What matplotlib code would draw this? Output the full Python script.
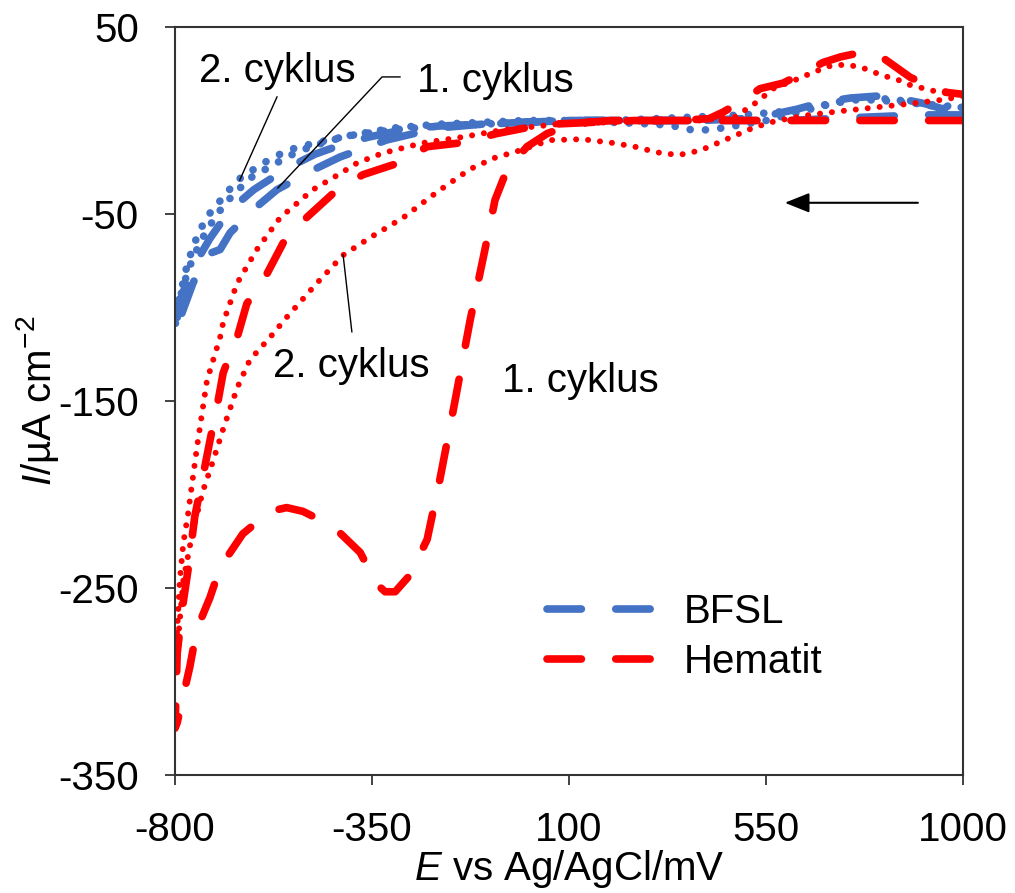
import matplotlib
matplotlib.use("Agg")
import matplotlib.pyplot as plt

plt.rcParams['font.family'] = ['Liberation Sans', 'DejaVu Sans']
plt.rcParams['axes.unicode_minus'] = False
plt.rcParams['mathtext.fontset'] = 'custom'
plt.rcParams['mathtext.rm'] = 'Liberation Sans'
plt.rcParams['mathtext.it'] = 'Liberation Sans:italic'

# ---- Data: potential E (mV vs Ag/AgCl) and current density I (uA cm^-2) ----
# Each cycle: cathodic sweep 1000 -> -800 mV, then anodic sweep back to 1000 mV.

# BFSL, 1st cycle
bfsl1_E = [1000, 900, 800, 700, 600, 500, 400, 300, 200, 100, 0, -100, -200, -316,
           -423, -485, -567, -613, -674, -697, -720, -736, -759, -781, -795, -800,
           -790, -770, -750, -720, -690, -660, -620, -580, -540, -480, -420, -360,
           -300, -200, -100, 0, 100, 200, 300, 400, 500, 560, 620, 673, 742, 800,
           826, 870, 913, 957, 1000]
bfsl1_I = [3, 3, 2, 1, 0, 0, 0, 0, 0, 0, -1, -2, -4, -10.4,
           -19.5, -26.5, -37, -46, -60, -69, -71, -76, -87, -101, -110, -113,
           -98, -84, -75, -63, -53, -45, -37, -31, -25, -18, -13, -9,
           -6, -3, -2, -1, 0, 0, 0, 0, 1, 3, 6, 9.4, 12, 13,
           13, 11, 9, 6, 5]

# BFSL, 2nd cycle
bfsl2_E = [1000, 950, 900, 850, 800, 750, 700, 650, 600, 550, 500, 450, 420, 380,
           340, 300, 200, 100, 0, -100, -200, -300, -400, -480, -544, -600, -658,
           -690, -720, -743, -759, -773, -789, -795, -800,
           -790, -775, -760, -740, -720, -700, -680, -655, -630, -600, -570, -540,
           -500, -450, -400, -350, -300, -200, -100, 0, 100, 200, 300, 400, 500,
           600, 650, 700, 750, 800, 850, 900, 950, 1000]
bfsl2_I = [7, 8, 9, 10, 11, 11, 9, 6, 3, 0, -2, -4, -5, -5,
           -3, -2, -1, 0, -1, -2, -3, -5, -8, -12, -16, -23, -32,
           -41, -49.5, -58.5, -67.6, -78, -94, -108, -110,
           -96, -84, -74, -64, -56, -49, -43, -37, -31, -27, -23, -19,
           -15, -11, -8, -6, -4, -2, -1, 0, 0, 0, 1, 2, 3,
           5, 7, 9, 12, 12, 11, 9, 7, 7]

# Hematit, 1st cycle
hem1_E = [1000, 900, 800, 700, 600, 500, 400, 300, 200, 140, 90, 50, 4, -42, -69,
          -92, -126, -160, -195, -224, -263, -297, -320, -339, -377, -439, -508,
          -545, -583, -645, -697, -720, -750, -766, -795, -800,
          -795, -784, -770, -755, -736, -720, -704, -690, -674, -658, -636, -613,
          -590, -553, -525, -498, -439, -405, -371, -293, -224, -149, -65, 0, 60,
          150, 250, 350, 420, 452, 500, 536, 589, 640, 680, 720, 760, 790, 820,
          850, 880, 920, 963, 1000]
hem1_I = [0, 0, 0, 0, 0, 0, 0, 0, 0, -1, -3.5, -7, -14, -26.5, -42.5,
          -69, -107, -149.5, -192, -224, -243, -252, -252, -248, -231, -217, -209,
          -207, -209, -221, -239, -255, -272, -292, -322, -325,
          -285, -262, -240, -212, -190, -171, -153, -135, -125, -116, -98, -90,
          -82, -65.5, -58, -51.6, -39, -34, -29, -23, -14, -12, -7, -4, -2,
          -1, 0, 0, 1, 4.5, 11, 17, 20, 26, 31, 34, 36, 36, 33,
          28, 23, 19, 15, 14]

# Hematit, 2nd cycle
hem2_E = [1000, 950, 880, 800, 720, 650, 600, 560, 520, 480, 450, 400, 350, 300,
          250, 200, 130, 57, -12, -70, -126, -200, -279, -350, -416, -476, -544,
          -583, -629, -658, -690, -713, -736, -759, -781, -795, -800,
          -795, -789, -781, -770, -750, -727, -697, -690, -658, -613, -560, -485,
          -420, -384, -325, -234, -142, -51, 102, 210, 300, 400, 480, 530, 566,
          620, 660, 703, 735, 766, 817, 849, 879, 947, 1000]
hem2_I = [13, 11, 9, 7, 5, 3, 1, -1, -4, -8, -11, -16, -18.5, -17,
          -14, -12, -10, -10.5, -16, -20, -26, -38, -52, -62, -72, -87, -105,
          -116, -128, -143, -165, -182, -198, -219, -246, -283, -292,
          -272, -246, -226, -210, -175, -139, -116, -108, -87, -69, -52, -37,
          -28, -22.7, -17.4, -12, -8.8, -5, -1.3, -1, 0, 0, 2, 10, 17,
          22, 26, 29.7, 29.7, 28.6, 24, 22, 19, 15, 14]

x_ticks = [-800, -350, 100, 550, 1000]
y_ticks = [-350, -250, -150, -50, 50]

BLUE = '#4472C4'
RED = '#FF0000'
FS = 29

fig = plt.figure(figsize=(10.15, 8.93), dpi=100)
ax = fig.add_axes([175 / 1015, 1 - 775 / 893, 788 / 1015, 748 / 893])

dash_kw = dict(lw=5.5, dashes=(4.5, 4.5), dash_capstyle='round')
dot_kw = dict(dashes=(0.01, 2.0), dash_capstyle='round')

ax.plot(bfsl2_E, bfsl2_I, color=BLUE, lw=5.5, **dot_kw)
ax.plot(bfsl1_E, bfsl1_I, color=BLUE, label='BFSL', **dash_kw)
ax.plot(hem2_E, hem2_I, color=RED, lw=4.3, **dot_kw)
ax.plot(hem1_E, hem1_I, color=RED, label='Hematit', **dash_kw)

ax.set_xlim(-800, 1000)
ax.set_ylim(-350, 50)
ax.set_xticks(x_ticks)
ax.set_yticks(y_ticks)
ax.tick_params(axis='both', labelsize=FS, length=7, width=1.2, pad=19,
               direction='out', colors='#222222', labelcolor='black')
for sp in ax.spines.values():
    sp.set_linewidth(1.5)
    sp.set_color('#333333')

ax.set_xlabel(r'$E$ vs Ag/AgCl/mV', fontsize=FS)
ax.set_ylabel(r'$I$/µA cm$^{-2}$', fontsize=FS)
ax.xaxis.set_label_coords(0.5, -0.097)
ax.yaxis.set_label_coords(-0.145, 0.5)

# cycle labels with leader lines
ax.text(-567, 20.6, '2. cyklus', ha='center', va='baseline', fontsize=FS)
ax.plot([-567, -652], [12.6, -31.8], color='black', lw=1)
ax.text(-69, 15.2, '1. cyklus', ha='center', va='baseline', fontsize=FS)
ax.plot([-286, -327, -565], [23.3, 23.3, -36.1], color='black', lw=1)
ax.text(-398, -137.2, '2. cyklus', ha='center', va='baseline', fontsize=FS)
ax.plot([-416, -396], [-71.9, -113], color='black', lw=1)
ax.text(125, -145.2, '1. cyklus', ha='center', va='baseline', fontsize=FS)

# scan direction
ax.annotate('', xy=(593, -44), xytext=(897, -44),
            arrowprops=dict(arrowstyle='-|>,head_length=0.5,head_width=0.2',
                            color='black', lw=1.5, mutation_scale=30,
                            shrinkA=0, shrinkB=0))

ax.legend(loc='upper left', bbox_to_anchor=(0.472, 0.243), frameon=False,
          fontsize=FS, handlelength=2.7, handletextpad=0.7, labelspacing=0.3,
          borderpad=0, borderaxespad=0)

fig.savefig('out.png', dpi=100)
